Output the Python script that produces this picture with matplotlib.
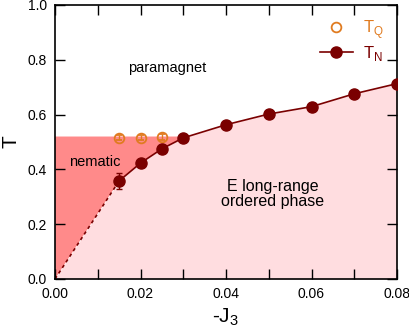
import numpy as np
import matplotlib.pyplot as plt
from matplotlib.lines import Line2D

plt.rcParams['font.family'] = ['Liberation Sans', 'DejaVu Sans']

# T_N data (Neel transition)
j3_n = [0.015, 0.02, 0.025, 0.03, 0.04, 0.05, 0.06, 0.07, 0.08]
t_n = [0.358, 0.423, 0.475, 0.515, 0.563, 0.602, 0.629, 0.676, 0.713]
t_n_err = [0.03, 0.015, 0.015, 0.012, 0.01, 0.015, 0.012, 0.01, 0.01]

# T_Q data (nematic transition)
j3_q = [0.015, 0.02, 0.025]
t_q = [0.516, 0.516, 0.518]
t_q_err = [0.008, 0.008, 0.01]

dark = "#7a0000"
orange = "#e07b20"

fig = plt.figure(figsize=(4.09, 3.35), dpi=100)
ax = fig.add_axes([55/409, 1-279/335, 342/409, 274/335])

# light region below T_N
x_fill = [0.0] + j3_n
y_fill = [0.0] + t_n
ax.fill_between(x_fill, 0, y_fill, color="#ffdde0", lw=0, zorder=0)

# nematic region
t_top = 0.52
xs = [0.0, j3_n[0], j3_n[1], j3_n[2], j3_n[3], 0.03, 0.0]
ys = [0.0, t_n[0], t_n[1], t_n[2], t_n[3], t_top, t_top]
ax.fill(xs, ys, color="#ff8a8a", lw=0, zorder=1)

ax.plot([0.0, j3_n[0]], [0.0, t_n[0]], ls=(0, (2, 2)), color=dark, lw=1.2, zorder=2)

ax.errorbar(j3_q, t_q, yerr=t_q_err, fmt="o", mfc="none", mec=orange, ecolor=orange,
            ms=7, mew=1.3, capsize=2.5, elinewidth=1, zorder=3)
ax.errorbar(j3_n, t_n, yerr=t_n_err, fmt="-o", color=dark, ms=8, lw=1.2,
            capsize=2.5, elinewidth=1, zorder=4)

ax.set_xlim(0, 0.08)
ax.set_ylim(0, 1.0)
ax.set_xticks([0.0, 0.02, 0.04, 0.06, 0.08])
ax.set_xticks(np.arange(0, 0.081, 0.01), minor=True)
ax.set_yticks([0.0, 0.2, 0.4, 0.6, 0.8, 1.0])
ax.tick_params(direction="in", top=True, right=True, labelsize=10, length=7, width=1, pad=6)
ax.tick_params(which="minor", direction="in", top=True, right=True, length=7, width=1)
ax.xaxis.set_major_formatter(plt.FormatStrFormatter("%.2f"))
ax.yaxis.set_major_formatter(plt.FormatStrFormatter("%.1f"))
for s in ax.spines.values():
    s.set_linewidth(1.2)

ax.set_xlabel("-J$_\\mathregular{3}$", fontsize=15, labelpad=4)
ax.set_ylabel("T", fontsize=15, labelpad=5)

ax.text(0.0262, 0.77, "paramagnet", fontsize=10.5, ha="center", va="center")
ax.text(0.0094, 0.427, "nematic", fontsize=10.5, ha="center", va="center")
ax.text(0.051, 0.31, "E long-range\nordered phase", fontsize=11.5, ha="center",
        va="center", linespacing=1.0)

handles = [
    Line2D([], [], ls="none", marker="o", mfc="none", mec=orange, ms=7, mew=1.3),
    Line2D([], [], ls="-", marker="o", color=dark, ms=8, lw=1.2),
]
leg = ax.legend(handles, ["T$_\\mathregular{Q}$", "T$_\\mathregular{N}$"], loc="upper right",
                frameon=False, fontsize=12, handlelength=2.0, borderaxespad=0.4,
                labelspacing=0.15, handletextpad=0.6)
for txt, c in zip(leg.get_texts(), [orange, dark]):
    txt.set_color(c)

fig.savefig("out.png", dpi=100)
